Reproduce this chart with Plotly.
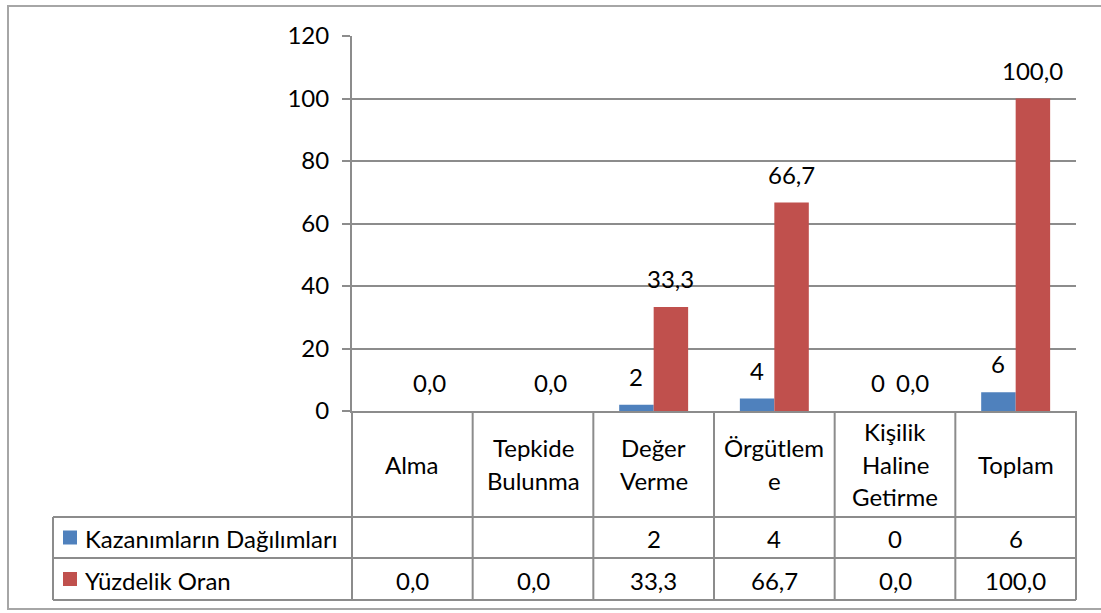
import plotly.graph_objects as go

# Data
categories = ["Alma", "Tepkide Bulunma", "Değer Verme", "Örgütleme",
              "Kişilik Haline Getirme", "Toplam"]
header_labels = [["Alma"], ["Tepkide", "Bulunma"], ["Değer", "Verme"],
                 ["Örgütlem", "e"], ["Kişilik", "Haline", "Getirme"], ["Toplam"]]
kazanim = [None, None, 2, 4, 0, 6]
yuzde = [0.0, 0.0, 33.3, 66.7, 0.0, 100.0]
series_names = ["Kazanımların Dağılımları", "Yüzdelik Oran"]
series_colors = ["#4F81BD", "#C0504D"]
y_ticks = [0, 20, 40, 60, 80, 100, 120]

W, H = 1101, 613
L, R, T, B = 352, 25, 36, 202
PW, PH = W - L - R, H - T - B
FONT = "Lato, 'Open Sans', sans-serif"
FS = 24
GRID = "#8c8c8c"


def fx(px):
    return (px - L) / PW


def fy(py):
    return (T + PH - py) / PH


def fmt_pct(v):
    return f"{v:.1f}".replace(".", ",")


def fmt_int(v):
    return "" if v is None else str(int(v))


fig = go.Figure()
fig.add_trace(go.Bar(x=categories, y=kazanim, name=series_names[0],
                     marker=dict(color=series_colors[0], line=dict(width=0))))
fig.add_trace(go.Bar(x=categories, y=yuzde, name=series_names[1],
                     marker=dict(color=series_colors[1], line=dict(width=0))))

shapes = []
line = dict(color=GRID, width=2)
# outer chart frame
shapes.append(dict(type="rect", xref="paper", yref="paper",
                   x0=fx(8), x1=fx(1110), y0=fy(609), y1=fy(6),
                   line=dict(color="#a6a6a6", width=2), layer="below"))
# data table grid below the plot
table_bottom, row1, row2 = 600, 517, 558
for k in range(7):
    shapes.append(dict(type="line", xref="paper", yref="paper",
                       x0=k / 6, x1=k / 6, y0=0, y1=fy(table_bottom), line=line))
for yy in (row1, row2, table_bottom):
    shapes.append(dict(type="line", xref="paper", yref="paper",
                       x0=fx(53), x1=1, y0=fy(yy), y1=fy(yy), line=line))
shapes.append(dict(type="line", xref="paper", yref="paper",
                   x0=fx(53), x1=fx(53), y0=fy(row1), y1=fy(table_bottom), line=line))

annotations = []
txt = dict(family=FONT, size=FS, color="black")

# category headers
head_mid = (T + PH + row1) / 2
pitch = 32.5
for i, lines in enumerate(header_labels):
    n = len(lines)
    for j, s in enumerate(lines):
        yy = head_mid + (j - (n - 1) / 2) * pitch
        annotations.append(dict(x=(i + 0.5) / 6, y=fy(yy), xref="paper", yref="paper",
                                text=s, showarrow=False, font=txt,
                                xanchor="center", yanchor="middle"))

# legend keys and table values
rows = [(row1 + row2) / 2, (row2 + table_bottom) / 2]
values = [[fmt_int(v) for v in kazanim], [fmt_pct(v) for v in yuzde]]
for r, ymid in enumerate(rows):
    shapes.append(dict(type="rect", xref="paper", yref="paper",
                       x0=fx(63), x1=fx(77), y0=fy(ymid + 7), y1=fy(ymid - 7),
                       fillcolor=series_colors[r], line=dict(width=0)))
    annotations.append(dict(x=fx(83), y=fy(ymid + 1), xref="paper", yref="paper",
                            text=series_names[r], showarrow=False, font=txt,
                            xanchor="left", yanchor="middle"))
    for i, s in enumerate(values[r]):
        if s:
            annotations.append(dict(x=(i + 0.5) / 6, y=fy(ymid + 1), xref="paper",
                                    yref="paper", text=s, showarrow=False, font=txt,
                                    xanchor="center", yanchor="middle"))

# data labels above the bars
half = PW / 6 * (1 - 0.4286) / 4
for series, shift, f in ((kazanim, -half, fmt_int), (yuzde, half, fmt_pct)):
    for c, v in zip(categories, series):
        if v is None:
            continue
        annotations.append(dict(x=c, y=v, xref="x", yref="y", text=f(v),
                                showarrow=False, font=txt, xanchor="center",
                                yanchor="bottom", xshift=shift, yshift=12))

fig.update_layout(
    width=W, height=H,
    margin=dict(l=L, r=R, t=T, b=B, pad=0),
    paper_bgcolor="white", plot_bgcolor="white",
    barmode="group", bargap=0.4286, bargroupgap=0,
    showlegend=False,
    font=txt,
    shapes=shapes, annotations=annotations,
    xaxis=dict(type="category", showticklabels=False, showgrid=False,
               showline=True, linecolor=GRID, linewidth=2, ticks=""),
    yaxis=dict(range=[0, 120], tickvals=y_ticks, showgrid=True, gridcolor=GRID,
               gridwidth=2, showline=True, linecolor=GRID, linewidth=2,
               ticks="outside", ticklen=8, tickcolor=GRID, tickwidth=2,
               ticklabelstandoff=8, zeroline=False,
               tickfont=txt),
)

fig.write_html("out.html")
